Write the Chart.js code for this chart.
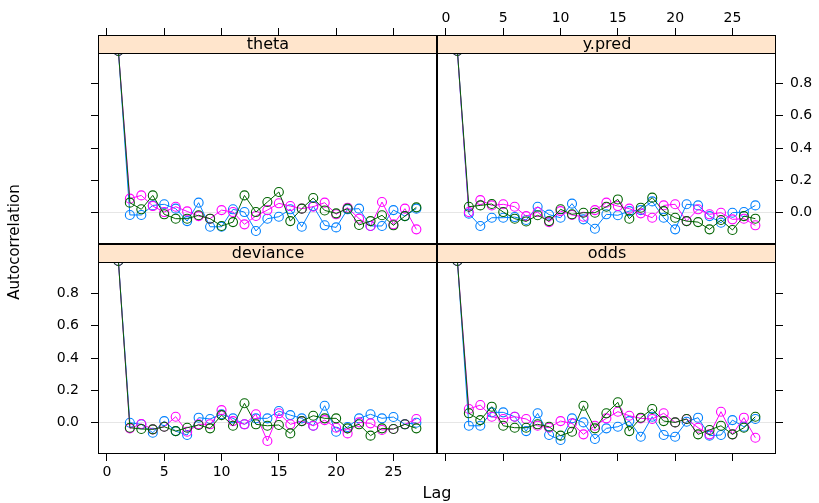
<!DOCTYPE html>
<html>
<head>
<meta charset="utf-8">
<script src="https://cdn.jsdelivr.net/npm/chart.js@4.4.1/dist/chart.umd.min.js"></script>
<style>
  html, body { margin: 0; padding: 0; background: #fff; }
  #wrap { position: relative; width: 819px; height: 503px; overflow: hidden; }
  #wrap canvas { position: absolute; left: 0; top: 0; }
</style>
</head>
<body>
<div id="wrap">
  <canvas id="c_theta" width="819" height="503"></canvas>
  <canvas id="c_ypred" width="819" height="503"></canvas>
  <canvas id="c_deviance" width="819" height="503"></canvas>
  <canvas id="c_odds" width="819" height="503"></canvas>
</div>
<script>
// lags and autocorrelations of the three chains, per parameter
const LAGS = [1, 2, 3, 4, 5, 6, 7, 8, 9, 10, 11, 12, 13, 14, 15, 16, 17, 18, 19, 20, 21, 22, 23, 24, 25, 26, 27];

const theta1 = [1, -0.014, -0.014, 0.045, 0.052, 0.025, -0.052, 0.062, -0.087, -0.087, 0.021, 0.004, -0.113, -0.037, -0.025, 0.021, -0.087, 0.041, -0.078, -0.091, 0.021, 0.025, -0.082, -0.082, 0.016, -0.021, 0.025];
const theta2 = [1, 0.087, 0.107, 0.041, 0.004, 0.037, 0.008, -0.021, -0.037, 0.016, 0.004, -0.072, -0.02, 0.016, 0.058, 0.041, 0.025, 0.037, 0.062, -0.01, 0.031, -0.037, -0.082, 0.066, -0.072, 0.025, -0.103];
const theta3 = [1, 0.062, 0.021, 0.107, -0.01, -0.037, -0.037, -0.016, -0.037, -0.082, -0.058, 0.107, 0.004, 0.066, 0.128, -0.052, 0.025, 0.091, 0.014, -0.004, 0.025, -0.076, -0.052, -0.016, -0.078, -0.021, 0.033];

const ypred1 = [1, -0.006, -0.082, -0.031, -0.031, -0.027, -0.045, 0.037, -0.012, -0.031, 0.056, -0.041, -0.099, -0.01, -0.016, 0.01, 0.016, 0.07, -0.031, -0.103, 0.052, 0.045, -0.021, -0.062, 0.0, 0.004, 0.045];
const ypred2 = [1, 0.004, 0.078, 0.045, 0.052, 0.037, -0.021, 0.004, -0.058, 0.01, -0.014, -0.025, 0.016, 0.062, 0.041, 0.025, -0.004, -0.031, 0.045, 0.052, -0.052, 0.021, -0.01, 0.0, -0.041, -0.037, -0.078];
const ypred3 = [1, 0.037, 0.045, 0.054, 0.004, -0.037, -0.054, -0.016, -0.052, 0.021, -0.01, 0.0, 0.0, 0.037, 0.082, -0.037, 0.031, 0.093, 0.01, -0.031, -0.052, -0.058, -0.103, -0.045, -0.107, -0.021, -0.037];

const deviance1 = [1, 0.0, -0.01, -0.062, 0.01, -0.052, -0.076, 0.031, 0.023, 0.052, 0.027, -0.01, 0.027, 0.027, 0.072, 0.047, 0.027, -0.019, 0.105, -0.056, -0.027, 0.027, 0.052, 0.027, 0.035, -0.01, 0.0];
const deviance2 = [1, -0.035, -0.008, -0.041, -0.025, 0.037, -0.056, -0.01, -0.01, 0.078, 0.01, -0.01, 0.052, -0.113, 0.058, -0.01, 0.01, -0.019, 0.016, -0.031, -0.066, 0.002, -0.004, -0.045, -0.039, -0.01, 0.023];
const deviance3 = [1, -0.031, -0.039, -0.041, -0.025, -0.052, -0.031, -0.014, -0.035, 0.047, -0.019, 0.12, -0.01, -0.019, -0.014, -0.066, 0.01, 0.043, 0.027, 0.027, -0.035, -0.01, -0.08, -0.035, -0.039, -0.01, -0.035];

const odds1 = [1, -0.019, -0.019, 0.064, 0.064, 0.037, -0.052, 0.058, -0.076, -0.107, 0.027, 0.002, -0.101, -0.035, -0.025, 0.01, -0.087, 0.037, -0.076, -0.087, 0.006, 0.031, -0.08, -0.076, 0.016, -0.025, 0.023];
const odds2 = [1, 0.085, 0.109, 0.037, 0.023, 0.037, 0.023, -0.019, -0.031, 0.01, -0.004, -0.072, -0.019, 0.027, 0.068, 0.043, 0.027, 0.023, 0.058, 0.002, 0.023, -0.031, -0.072, 0.068, -0.072, 0.031, -0.093];
const odds3 = [1, 0.058, 0.016, 0.099, -0.019, -0.031, -0.031, -0.01, -0.025, -0.08, -0.056, 0.105, -0.035, 0.058, 0.126, -0.052, 0.031, 0.085, 0.01, 0.002, 0.023, -0.072, -0.045, -0.019, -0.072, -0.031, 0.037];

const X_TICKS = [0, 5, 10, 15, 20, 25];
const Y_TICKS = [0, 0.2, 0.4, 0.6, 0.8];

// lattice superpose colours, one per chain
const CHAIN_COLORS = ['#0080ff', '#ff00ff', '#006400'];

const FONT = '"DejaVu Sans", Verdana, sans-serif';
const STRIP_FILL = '#ffe5cc';
const ZERO_LINE = '#e6e6e6';
const TICK_LEN = 7;
const STRIP_H = 18;
const PX_PER_UNIT = 161.75;
const X_MIN = -0.78, X_MAX = 28.8;
const Y_MIN = -0.1935;
const W = 819, H = 503;

// strip + frame drawn over the data so the lag-1 circles tuck under the strip
const panelFrame = {
  id: 'panelFrame',
  afterDatasetsDraw(chart, args, opts) {
    const { ctx, chartArea: a } = chart;
    const w = a.right - a.left;
    ctx.save();
    ctx.fillStyle = STRIP_FILL;
    ctx.fillRect(a.left, a.top, w, STRIP_H);
    ctx.strokeStyle = '#000';
    ctx.lineWidth = 1;
    ctx.strokeRect(a.left + 0.5, a.top + 0.5, w - 1, STRIP_H);
    ctx.strokeRect(a.left + 0.5, a.top + 0.5, w - 1, a.bottom - a.top - 1);
    ctx.fillStyle = '#000';
    ctx.font = '16px ' + FONT;
    ctx.textAlign = 'center';
    ctx.textBaseline = 'middle';
    ctx.fillText(opts.label, Math.round((a.left + a.right) / 2), a.top + STRIP_H / 2 + 1);
    ctx.restore();
  }
};

// shared axis titles, drawn once on the last panel's canvas
const outerTitles = {
  id: 'outerTitles',
  afterDraw(chart) {
    const ctx = chart.ctx;
    ctx.save();
    ctx.fillStyle = '#000';
    ctx.font = '16px ' + FONT;
    ctx.textAlign = 'center';
    ctx.textBaseline = 'middle';
    ctx.fillText('Lag', 437, 494);
    ctx.translate(15, 242);
    ctx.rotate(-Math.PI / 2);
    ctx.font = '15px ' + FONT;
    ctx.fillText('Autocorrelation', 0, 0);
    ctx.restore();
  }
};

function series(values) {
  return LAGS.map((lag, i) => ({ x: lag, y: values[i] }));
}

function makePanel(id, label, chains, box, extraPlugins) {
  // chain 3 first so it ends up painted on top
  const datasets = [2, 1, 0].map(k => ({
    data: series(chains[k]),
    borderColor: CHAIN_COLORS[k],
    backgroundColor: 'rgba(0,0,0,0)',
    borderWidth: 1,
    pointRadius: 4.5,
    pointBorderWidth: 1.1,
    pointBackgroundColor: 'rgba(0,0,0,0)',
    pointBorderColor: CHAIN_COLORS[k],
    pointHoverRadius: 4.5,
    tension: 0,
    clip: false
  }));

  // scale boxes: just the tick marks, or wide enough to hold the labels
  // (chart.js clips tick labels to the scale's own box)
  const xSize = !box.xLabels ? TICK_LEN : (box.xSide === 'top' ? box.top : H - box.bottom - 10);
  const ySize = !box.yLabels ? TICK_LEN : (box.ySide === 'left' ? box.left - 10 : W - box.right);

  const yMax = Y_MIN + (box.bottom - box.top) / PX_PER_UNIT;
  const tickFont = { family: FONT, size: 14 };

  new Chart(document.getElementById(id), {
    type: 'line',
    data: { datasets },
    plugins: [panelFrame].concat(extraPlugins || []),
    options: {
      responsive: false,
      animation: false,
      devicePixelRatio: 1,
      events: [],
      layout: {
        autoPadding: false,
        padding: {
          left: box.left - (box.ySide === 'left' ? ySize : 0),
          right: W - box.right - (box.ySide === 'right' ? ySize : 0),
          top: box.top - (box.xSide === 'top' ? xSize : 0),
          bottom: H - box.bottom - (box.xSide === 'bottom' ? xSize : 0)
        }
      },
      plugins: {
        legend: { display: false },
        tooltip: { enabled: false },
        panelFrame: { label }
      },
      scales: {
        x: {
          type: 'linear',
          position: box.xSide,
          min: X_MIN,
          max: X_MAX,
          afterBuildTicks: s => { s.ticks = X_TICKS.map(v => ({ value: v })); },
          afterFit: s => { s.height = xSize; },
          border: { display: false },
          grid: { color: 'rgba(0,0,0,0)', tickColor: '#000', tickLength: TICK_LEN, tickWidth: 1 },
          ticks: {
            display: box.xLabels,
            color: '#000',
            font: tickFont,
            padding: box.xSide === 'top' ? 1 : 3,
            maxRotation: 0,
            autoSkip: false,
            callback: v => String(v)
          }
        },
        y: {
          type: 'linear',
          position: box.ySide,
          min: Y_MIN,
          max: yMax,
          afterBuildTicks: s => { s.ticks = Y_TICKS.map(v => ({ value: v })); },
          afterFit: s => { s.width = ySize; },
          border: { display: false },
          grid: {
            color: c => (c.tick && c.tick.value === 0 ? ZERO_LINE : 'rgba(0,0,0,0)'),
            tickColor: '#000',
            tickLength: TICK_LEN,
            tickWidth: 1
          },
          ticks: {
            display: box.yLabels,
            color: '#000',
            font: tickFont,
            padding: box.ySide === 'left' ? 12 : 7,
            autoSkip: false,
            callback: v => v.toFixed(1)
          }
        }
      }
    }
  });
}

const LEFT = 98, MID = 437, RIGHT = 776;
const TOP = 35, ROW = 244, BOTTOM = 454;

makePanel('c_theta', 'theta', [theta1, theta2, theta3],
  { left: LEFT, right: MID, top: TOP, bottom: ROW, xSide: 'top', xLabels: false, ySide: 'left', yLabels: false });
makePanel('c_ypred', 'y.pred', [ypred1, ypred2, ypred3],
  { left: MID, right: RIGHT, top: TOP, bottom: ROW, xSide: 'top', xLabels: true, ySide: 'right', yLabels: true });
makePanel('c_deviance', 'deviance', [deviance1, deviance2, deviance3],
  { left: LEFT, right: MID, top: ROW, bottom: BOTTOM, xSide: 'bottom', xLabels: true, ySide: 'left', yLabels: true });
makePanel('c_odds', 'odds', [odds1, odds2, odds3],
  { left: MID, right: RIGHT, top: ROW, bottom: BOTTOM, xSide: 'bottom', xLabels: false, ySide: 'right', yLabels: false },
  [outerTitles]);
</script>
</body>
</html>
